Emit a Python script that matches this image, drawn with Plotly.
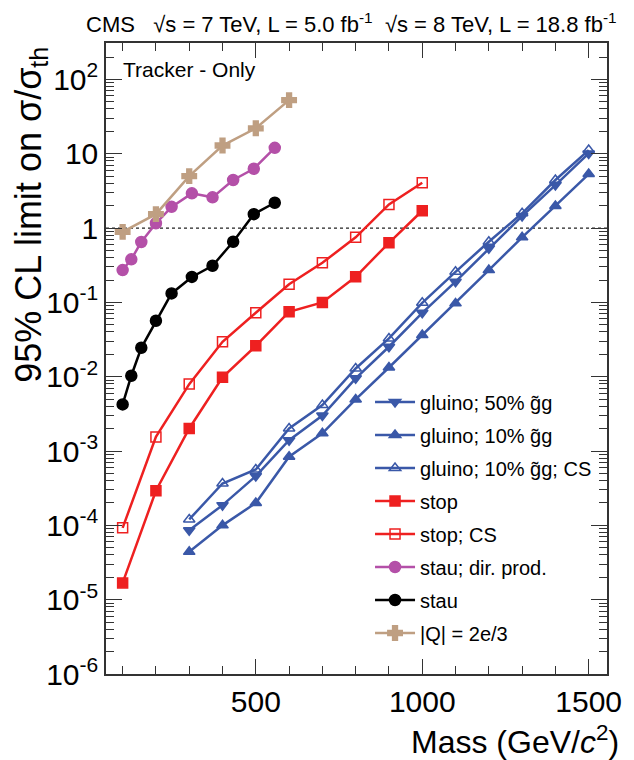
import plotly.graph_objects as go

# ---------------- data ----------------
gluino_mass = [300, 400, 500, 600, 700, 800, 900, 1000, 1100, 1200, 1300, 1400, 1500]
gluino_50 = [8.6e-5, 1.87e-4, 4.6e-4, 1.40e-3, 3.0e-3, 9.5e-3, 0.0253, 0.0724, 0.19, 0.533, 1.45, 3.79, 10.1]
gluino_10 = [4.4e-5, 1.0e-4, 2.0e-4, 8.4e-4, 1.73e-3, 4.94e-3, 0.0133, 0.0363, 0.097, 0.272, 0.75, 1.98, 5.33]
gluino_10_cs = [1.2e-4, 3.66e-4, 5.65e-4, 2.01e-3, 4.15e-3, 0.0129, 0.0327, 0.0988, 0.258, 0.654, 1.58, 4.43, 11.2]

stop_mass = [100, 200, 300, 400, 500, 600, 700, 800, 900, 1000]
stop = [1.68e-5, 2.92e-4, 2.01e-3, 9.8e-3, 0.026, 0.0748, 0.10, 0.221, 0.634, 1.71]
stop_cs = [9.25e-5, 1.55e-3, 7.95e-3, 0.0295, 0.0724, 0.175, 0.341, 0.75, 2.08, 4.07]

stau_mass = [100, 126, 156, 200, 247, 308, 370, 432, 494, 557]
stau_dir = [0.272, 0.38, 0.65, 1.16, 1.93, 2.93, 2.59, 4.43, 6.28, 12.0]
stau = [0.00424, 0.0103, 0.0245, 0.0566, 0.132, 0.22, 0.311, 0.654, 1.54, 2.19]

q23_mass = [100, 200, 300, 400, 500, 600]
q23 = [0.89, 1.54, 5.0, 12.9, 22.0, 52.7]

threshold = 1.0
x_range = [50, 1555]
y_exp_range = [-6, 2.49]

y_tick_vals = [1e-6, 1e-5, 1e-4, 1e-3, 1e-2, 1e-1, 1, 10, 100]
y_tick_text = ["10<sup>-6</sup>", "10<sup>-5</sup>", "10<sup>-4</sup>", "10<sup>-3</sup>",
               "10<sup>-2</sup>", "10<sup>-1</sup>", "1", "10", "10<sup>2</sup>"]
y_minor_vals = [k * 10.0 ** e for e in range(-6, 3) for k in range(2, 10) if k * 10.0 ** e < 10 ** 2.49]

BLUE = "#3a58a8"
RED = "#ee2020"
MAGENTA = "#b450a8"
TAN = "#bf9f82"
FONT = "Liberation Sans, Arial, sans-serif"

fig = go.Figure()

# threshold line
fig.add_trace(go.Scatter(x=x_range, y=[threshold, threshold], mode="lines",
                         line=dict(color="#222", width=1.2, dash="dot"),
                         showlegend=False, hoverinfo="skip"))

series = [
    ("gluino; 50% g\u0303g", gluino_mass, gluino_50, BLUE, "triangle-down", 10),
    ("gluino; 10% g\u0303g", gluino_mass, gluino_10, BLUE, "triangle-up", 10),
    ("gluino; 10% g\u0303g; CS", gluino_mass, gluino_10_cs, BLUE, "triangle-up-open", 10),
    ("stop", stop_mass, stop, RED, "square", 10),
    ("stop; CS", stop_mass, stop_cs, RED, "square-open", 10),
    ("stau; dir. prod.", stau_mass, stau_dir, MAGENTA, "circle", 11),
    ("stau", stau_mass, stau, "black", "circle", 11),
    ("|Q| = 2e/3", q23_mass, q23, TAN, "cross", 12),
]

for i, (name, xs, ys, col, sym, sz) in enumerate(series):
    fig.add_trace(go.Scatter(
        x=xs, y=ys, name=name, mode="lines+markers",
        line=dict(color=col, width=2.5),
        marker=dict(color=col, symbol=sym, size=sz,
                    line=dict(color=col, width=1.5)),
        legendgroup=f"g{i}",
    ))

axis_common = dict(
    showgrid=False, zeroline=False, showline=True, linecolor="#333", linewidth=1.5,
    mirror="ticks", ticks="inside", tickcolor="#333", tickwidth=1.2,
    tickfont=dict(family=FONT, size=30, color="black"),
)

fig.update_xaxes(
    range=x_range, tick0=0, dtick=500, ticklen=15,
    minor=dict(tick0=0, dtick=100, ticks="inside", ticklen=8, tickcolor="#333", tickwidth=1.2),
    **axis_common,
)
fig.update_yaxes(
    type="log", range=y_exp_range, tickmode="array", tickvals=y_tick_vals,
    ticktext=y_tick_text, ticklen=16,
    minor=dict(tickmode="array", tickvals=y_minor_vals, ticks="inside", ticklen=8,
               tickcolor="#333", tickwidth=1.2),
    **axis_common,
)

fig.update_layout(
    width=634, height=760,
    margin=dict(l=106, r=18, t=43, b=86),
    paper_bgcolor="white", plot_bgcolor="white",
    font=dict(family=FONT, color="black"),
    legend=dict(x=0.527, y=0.462, xanchor="left", yanchor="top",
                bgcolor="rgba(0,0,0,0)", font=dict(family=FONT, size=20),
                tracegroupgap=4, itemwidth=40),
    annotations=[
        dict(text="CMS   \u221as = 7 TeV, L = 5.0 fb<sup>-1</sup>  \u221as = 8 TeV, L = 18.8 fb<sup>-1</sup>",
             xref="paper", yref="paper", x=1.024, y=1.0, xanchor="right", yanchor="bottom",
             yshift=4, showarrow=False, font=dict(family=FONT, size=22)),
        dict(text="Tracker - Only", xref="paper", yref="paper", x=0.03, y=0.98,
             xanchor="left", yanchor="top", showarrow=False, font=dict(family=FONT, size=21)),
        dict(text="95% CL limit on \u03c3/\u03c3<sub>th</sub>", xref="paper", yref="paper",
             x=-0.15, y=1.0, xanchor="center", yanchor="top", textangle=-90, yshift=-2,
             showarrow=False, font=dict(family=FONT, size=36)),
        dict(text="Mass (GeV/<i>c</i><sup>2</sup>)", xref="paper", yref="paper",
             x=1.028, y=-0.14, xanchor="right", yanchor="bottom",
             showarrow=False, font=dict(family=FONT, size=32)),
    ],
)

fig.write_html("out.html")
